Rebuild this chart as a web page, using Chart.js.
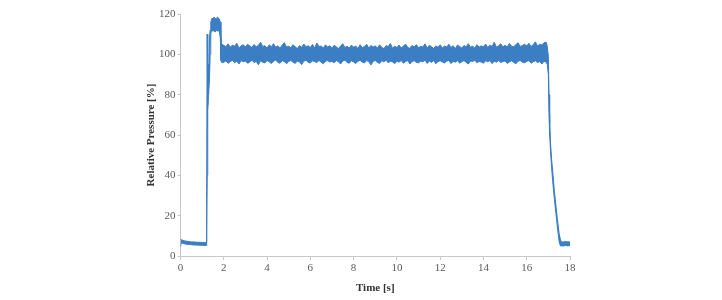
<!DOCTYPE html>
<html>
<head>
<meta charset="utf-8">
<script src="https://cdn.jsdelivr.net/npm/chart.js@4/dist/chart.umd.min.js"></script>
<style>
  html, body { margin: 0; padding: 0; background: #fff; }
  #wrap { width: 722px; height: 300px; }
</style>
</head>
<body>
<div id="wrap"><canvas id="chartPressure"></canvas></div>
<script>
// start-up: idle level, rise, overshoot plateau
const startTime = [0, 0.03, 0.1, 0.2, 0.3, 0.4, 0.5, 0.6, 0.7, 0.8, 0.9, 1.0, 1.1, 1.2,
  1.21, 1.23, 1.25, 1.27, 1.29, 1.31, 1.34, 1.37, 1.40, 1.43,
  1.46, 1.5, 1.55, 1.6, 1.65, 1.7, 1.75, 1.8, 1.84, 1.87, 1.9];
const startHi = [8.5, 8.0, 7.8, 7.5, 7.3, 7.2, 7.0, 7.0, 6.9, 6.8, 6.8, 6.7, 6.7, 6.8,
  30, 110, 75, 90, 95, 92, 108, 112, 116, 117,
  118, 117.5, 118.5, 118, 117, 118.5, 118, 117.5, 116, 106, 105];
const startLo = [4.5, 6.5, 6.3, 6.0, 5.8, 5.7, 5.6, 5.5, 5.4, 5.4, 5.3, 5.3, 5.2, 5.2,
  10, 40, 68, 72, 80, 82, 88, 100, 110, 112,
  112, 111.5, 112, 111, 112, 111.5, 112, 111, 108, 97, 96];

// steady phase, sampled every 0.1 s from 2.0 s to 16.9 s (upper / lower envelope)
const bandStart = 2.0;
const bandStep = 0.1;
const bandHi = [
  104.5,103.8,105.2,103.5,104.6,104.0,105.5,103.2,104.1,104.8,
  103.6,105.0,104.2,103.4,104.9,103.7,104.5,106.0,103.9,104.3,
  103.1,104.7,103.8,105.3,103.5,104.2,103.0,104.6,105.8,103.6,
  104.0,103.3,104.8,103.7,102.9,104.4,103.5,105.1,103.8,104.2,
  103.4,104.9,103.1,105.6,103.9,104.1,103.2,104.7,103.6,104.3,
  103.0,104.5,103.7,102.8,104.2,105.2,103.4,104.0,103.1,104.6,
  103.5,104.1,102.9,104.8,103.3,103.9,105.0,103.2,104.4,103.6,
  104.2,103.1,104.7,103.5,102.8,104.3,103.9,105.4,103.0,104.1,
  103.4,104.6,103.2,104.0,105.1,103.5,102.9,104.4,103.7,104.8,
  103.3,104.0,103.6,105.2,103.1,104.5,103.8,102.9,104.2,103.5,
  104.7,103.2,104.1,103.6,105.0,103.4,104.3,102.8,104.6,103.9,
  103.1,104.4,103.7,105.3,103.5,104.0,103.2,104.8,103.6,104.2,
  103.8,105.1,103.4,104.6,103.9,106.0,103.5,104.3,105.2,103.7,
  104.5,103.6,105.4,104.0,103.8,104.9,105.7,103.9,104.4,105.0,
  104.2,105.5,103.9,104.8,106.2,104.1,105.0,104.6,105.8,106.0
];
const bandLo = [
  96.0,96.8,95.5,96.4,97.0,95.8,96.6,95.2,96.9,96.3,
  96.7,95.6,96.2,97.1,95.9,96.5,94.8,96.8,96.1,95.7,
  96.9,96.3,95.4,96.6,97.2,96.0,95.6,96.8,96.4,95.3,
  96.5,97.0,96.1,95.5,96.7,96.2,94.9,96.6,97.1,96.0,
  95.7,96.8,96.4,95.9,97.0,96.1,95.3,96.6,96.9,96.2,
  96.5,95.8,96.9,96.3,95.2,96.7,97.1,96.0,95.6,96.8,
  96.2,95.4,96.6,97.0,96.1,95.7,96.9,96.4,94.7,96.5,
  96.9,96.0,95.5,96.8,96.3,97.1,95.8,96.6,96.2,95.4,
  96.7,96.1,97.0,95.6,96.4,96.9,95.2,96.5,96.8,96.0,
  95.8,96.6,96.3,97.1,95.5,96.7,96.0,96.9,95.3,96.4,
  96.8,96.2,95.7,96.6,97.0,95.4,96.5,96.1,96.9,95.6,
  96.3,96.9,96.0,95.2,96.7,96.4,97.1,95.8,96.5,96.2,
  95.6,96.8,96.3,96.9,95.4,96.6,96.1,97.0,95.9,96.4,
  96.7,95.5,96.2,96.8,96.0,95.3,96.6,96.9,96.1,95.8,
  96.5,96.9,95.6,96.3,96.8,95.9,96.4,95.2,96.6,96.1
];

// shut-down: pressure decay and idle level
const endTime = [16.95, 17.0, 17.03, 17.06, 17.1, 17.15, 17.2, 17.28, 17.35, 17.42, 17.5, 17.56, 17.6, 17.7, 17.8, 17.9, 18.0];
const endHi = [104, 99, 80, 66, 56, 48, 42, 32, 25, 18, 11, 8, 7, 7, 7.2, 7, 7];
const endLo = [95, 90, 70, 60, 52, 44, 37, 28, 21, 14, 7, 5, 5, 5, 5.2, 5, 5.2];

const xTicks = { min: 0, max: 18, step: 2 };
const yTicks = { min: 0, max: 120, step: 20 };

function toPoints(times, values) {
  return times.map((t, i) => ({ x: t, y: values[i] }));
}

const bandPointsHi = bandHi.map((v, i) => ({ x: +(bandStart + i * bandStep).toFixed(2), y: v }));
const bandPointsLo = bandLo.map((v, i) => ({ x: +(bandStart + i * bandStep).toFixed(2), y: v }));

const datosHi = [...toPoints(startTime, startHi), ...bandPointsHi, ...toPoints(endTime, endHi)];
const datosLo = [...toPoints(startTime, startLo), ...bandPointsLo, ...toPoints(endTime, endLo)];

const azul = 'rgb(59,126,196)';
const fuente = "'Liberation Serif', 'Times New Roman', serif";

new Chart(document.getElementById('chartPressure').getContext('2d'), {
  type: 'line',
  data: {
    datasets: [
      { data: datosLo, borderColor: azul, borderWidth: 1, pointRadius: 0, tension: 0, fill: false },
      { data: datosHi, borderColor: azul, borderWidth: 1, pointRadius: 0, tension: 0, fill: '-1', backgroundColor: azul }
    ]
  },
  options: {
    responsive: true,
    maintainAspectRatio: false,
    animation: false,
    layout: { padding: { left: 145, right: 152, top: 14, bottom: 5 } },
    plugins: { legend: { display: false }, tooltip: { enabled: false } },
    scales: {
      x: {
        type: 'linear',
        min: xTicks.min, max: xTicks.max,
        afterFit: s => { s.height = 39; },
        border: { display: true, color: '#c8c8c8', width: 1 },
        grid: { display: true, drawOnChartArea: false, drawTicks: true, tickLength: 4, color: '#c8c8c8' },
        ticks: { stepSize: xTicks.step, color: '#595959', font: { family: fuente, size: 11 }, padding: 2, maxRotation: 0 },
        title: { display: true, text: 'Time [s]', color: '#333', font: { family: fuente, size: 11, weight: 'bold' }, padding: { top: 4, bottom: 0 } }
      },
      y: {
        min: yTicks.min, max: yTicks.max,
        afterFit: s => { s.width = 35.5; },
        border: { display: true, color: '#c8c8c8', width: 1 },
        grid: { display: true, drawOnChartArea: false, drawTicks: true, tickLength: 3, color: '#c8c8c8' },
        ticks: { stepSize: yTicks.step, color: '#595959', font: { family: fuente, size: 11 }, padding: 2 },
        title: { display: true, text: 'Relative Pressure [%]', color: '#333', font: { family: fuente, size: 11, weight: 'bold' }, padding: { top: 0, bottom: 4 } }
      }
    }
  }
});
</script>
</body>
</html>
